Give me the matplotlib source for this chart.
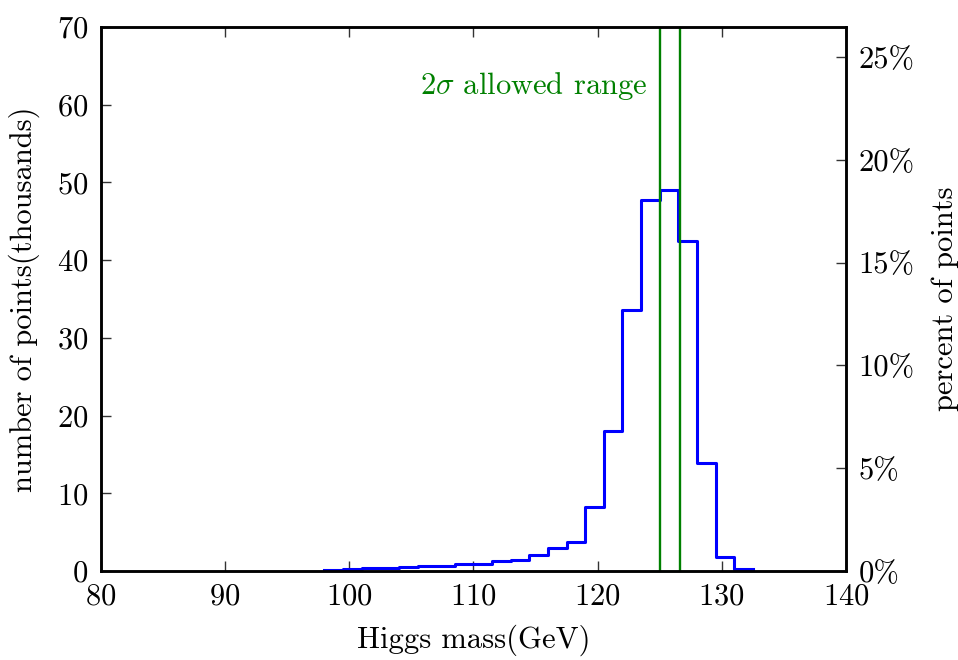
import numpy as np
import matplotlib
matplotlib.use('Agg')
import matplotlib.pyplot as plt
from matplotlib.ticker import FuncFormatter

plt.rcParams['font.family'] = ['cmr10', 'DejaVu Serif']
plt.rcParams['mathtext.fontset'] = 'cm'
plt.rcParams['axes.formatter.use_mathtext'] = True

# histogram bin edges (GeV) and counts (thousands of points)
edges = np.arange(98.0, 132.51, 1.5)
counts = [0.1, 0.25, 0.4, 0.4, 0.5, 0.65, 0.65, 0.95, 0.95, 1.25, 1.45, 2.1,
          2.95, 3.8, 8.3, 18.0, 33.6, 47.7, 49.0, 42.5, 13.9, 1.8, 0.2]
# 2 sigma allowed Higgs mass range
allowed = [125.0, 126.65]
total_k = 264.5  # total number of points (thousands), for percent axis

fig = plt.figure(figsize=(9.58, 6.6), dpi=100)
ax = fig.add_axes([0.1054, 0.1348, 0.7777, 0.8242])

ax.plot(edges, list(counts) + [counts[-1]], drawstyle='steps-post',
        color='blue', lw=2.2)
for m in allowed:
    ax.axvline(m, color='green', lw=1.7)
ax.text(124.0, 62.4, r'$2\sigma$ allowed range', color='green',
        fontsize=22, ha='right', va='center')

ax.set_xlim(80, 140)
ax.set_ylim(0, 70)
ax.set_xticks(range(80, 141, 10))
ax.set_yticks(range(0, 71, 10))
ax.set_xlabel('Higgs mass(GeV)', fontsize=22, labelpad=10)
ax.set_ylabel('number of points(thousands)', fontsize=22, labelpad=12)
ax.tick_params(direction='in', length=7, width=1, labelsize=22, pad=9,
               top=True, color='#333333')
for s in ax.spines.values():
    s.set_linewidth(1.8)

ax2 = ax.twinx()
ax2.set_ylim(0, 70 / total_k * 100)
ax2.set_yticks(range(0, 26, 5))
ax2.yaxis.set_major_formatter(FuncFormatter(lambda v, p: '%d%%' % v))
ax2.tick_params(direction='in', length=7, width=1, labelsize=22, pad=9,
                color='#333333')
ax2.set_ylabel('percent of points', fontsize=22, labelpad=12)
for s in ax2.spines.values():
    s.set_linewidth(1.8)

fig.savefig('out.png', dpi=100)
